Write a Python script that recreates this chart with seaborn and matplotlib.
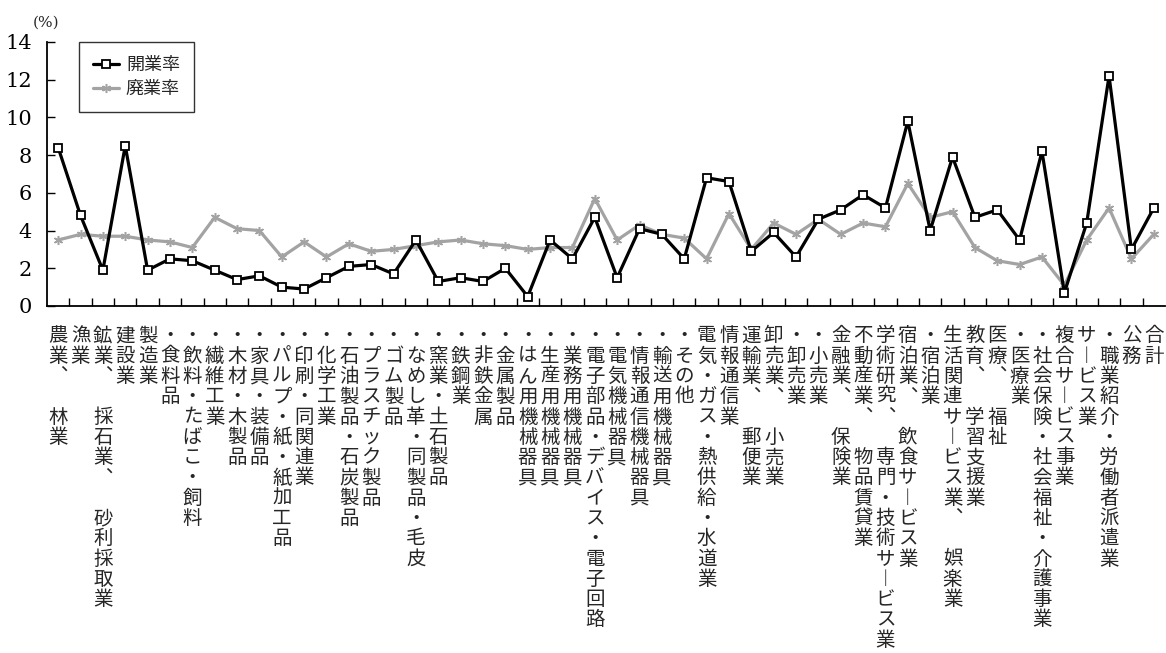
import numpy as np
import pandas as pd
import matplotlib
matplotlib.use("Agg")
import matplotlib.pyplot as plt
import seaborn as sns

# 業種
categories = [
    "農業、　林業", "漁業", "鉱業、　採石業、　砂利採取業", "建設業", "製造業",
    "・食料品", "・飲料・たばこ・飼料", "・繊維工業", "・木材・木製品", "・家具・装備品",
    "・パルプ・紙・紙加工品", "・印刷・同関連業", "・化学工業", "・石油製品・石炭製品",
    "・プラスチック製品", "・ゴム製品", "・なめし革・同製品・毛皮", "・窯業・土石製品",
    "・鉄鋼業", "・非鉄金属", "・金属製品", "・はん用機械器具", "・生産用機械器具",
    "・業務用機械器具", "・電子部品・デバイス・電子回路", "・電気機械器具",
    "・情報通信機械器具", "・輸送用機械器具", "・その他", "電気・ガス・熱供給・水道業",
    "情報通信業", "運輸業、　郵便業", "卸売業、　小売業", "・卸売業", "・小売業",
    "金融業、　保険業", "不動産業、　物品賃貸業", "学術研究、　専門・技術サービス業",
    "宿泊業、　飲食サービス業", "・宿泊業", "生活関連サービス業、　娯楽業",
    "教育、　学習支援業", "医療、　福祉", "・医療業", "・社会保険・社会福祉・介護事業",
    "複合サービス事業", "サービス業", "・職業紹介・労働者派遣業", "公務", "合計",
]

# 開業率 (%)
open_rate = [8.4, 4.8, 1.9, 8.5, 1.9, 2.5, 2.4, 1.9, 1.4, 1.6,
             1.0, 0.9, 1.5, 2.1, 2.2, 1.7, 3.5, 1.3, 1.5, 1.3,
             2.0, 0.5, 3.5, 2.5, 4.7, 1.5, 4.1, 3.8, 2.5, 6.8,
             6.6, 2.9, 3.9, 2.6, 4.6, 5.1, 5.9, 5.2, 9.8, 4.0,
             7.9, 4.7, 5.1, 3.5, 8.2, 0.7, 4.4, 12.2, 3.0, 5.2]

# 廃業率 (%)
close_rate = [3.5, 3.8, 3.7, 3.7, 3.5, 3.4, 3.1, 4.7, 4.1, 4.0,
              2.6, 3.4, 2.6, 3.3, 2.9, 3.0, 3.2, 3.4, 3.5, 3.3,
              3.2, 3.0, 3.1, 3.1, 5.7, 3.5, 4.3, 3.8, 3.6, 2.5,
              4.9, 3.0, 4.4, 3.8, 4.6, 3.8, 4.4, 4.2, 6.5, 4.7,
              5.0, 3.1, 2.4, 2.2, 2.6, 1.1, 3.5, 5.2, 2.5, 3.8]

y_ticks = [0, 2, 4, 6, 8, 10, 12, 14]

sns.set_theme(style="ticks")
plt.rcParams["font.family"] = ["Noto Sans CJK JP", "DejaVu Sans"]

BLACK = "#000000"
GRAY = "#a3a3a3"


def vertical(label):
    """Stack the characters of a label top to bottom (縦書き)."""
    label = label.replace("、", "︑").replace("ー", "︱")
    return "\n".join(label)


pos = np.arange(len(categories))
df = pd.DataFrame({"pos": pos, "開業率": open_rate, "廃業率": close_rate})

fig = plt.figure(figsize=(11.66, 6.53), dpi=100)
ax = fig.add_axes([0.0403, 0.5314, 0.9588, 0.4043])

sns.lineplot(data=df, x="pos", y="開業率", ax=ax, sort=False, color=BLACK,
             linewidth=2.3, marker="s", markersize=5.2, markerfacecolor="white",
             markeredgecolor=BLACK, markeredgewidth=1.3, label="開業率", zorder=3)
sns.lineplot(data=df, x="pos", y="廃業率", ax=ax, sort=False, color=GRAY,
             linewidth=2.3, marker=(6, 2, 0), markersize=6.5, markeredgecolor=GRAY,
             markeredgewidth=1.1, label="廃業率", zorder=2)

ax.set_xlim(-0.5, len(categories) - 0.5)
ax.set_ylim(0, 14)
ax.set_yticks(y_ticks)
ax.set_yticklabels([str(v) for v in y_ticks])
ax.set_xticks(pos)
ax.set_xticklabels([vertical(c) for c in categories], fontsize=14,
                   linespacing=0.955, va="top")
ax.set_xticks(pos[:-1] + 0.5, minor=True)
ax.set_xlabel("")
ax.set_ylabel("")

ax.tick_params(axis="x", which="major", length=0, pad=14)
ax.tick_params(axis="x", which="minor", direction="in", length=6, width=1.0,
               color="black")
ax.tick_params(axis="y", which="major", direction="in", length=6, width=1.0,
               color="black", pad=11, labelcolor="black", labelsize=15,
               labelfontfamily="DejaVu Serif")

for side in ("top", "right"):
    ax.spines[side].set_visible(False)
for side in ("left", "bottom"):
    ax.spines[side].set_color("black")
    ax.spines[side].set_linewidth(1.3)

ax.text(-0.001, 1.045, "(%)", transform=ax.transAxes, ha="center", va="bottom",
        fontsize=11, fontfamily="DejaVu Serif")

leg = ax.legend(loc="upper left", bbox_to_anchor=(0.0286, 1.0), borderaxespad=0,
                frameon=True, fancybox=False, edgecolor="black", fontsize=13,
                handlelength=1.4, handletextpad=0.4, labelspacing=0.3,
                borderpad=0.8)
leg.get_frame().set_linewidth(1.0)

fig.savefig("out.png", dpi=100, facecolor="white")
